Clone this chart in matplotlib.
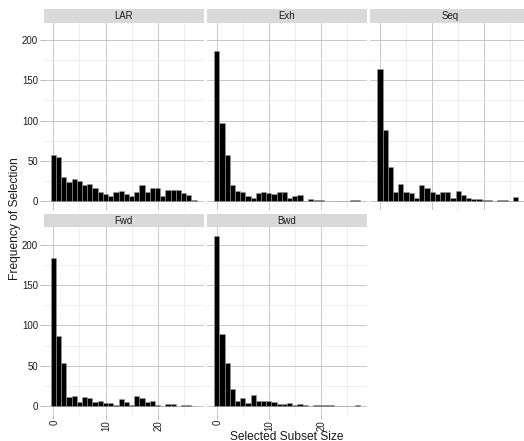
import numpy as np
import matplotlib
matplotlib.use('Agg')
import matplotlib.pyplot as plt

plt.rcParams['font.family'] = ['Liberation Sans', 'DejaVu Sans']

# ---- data ----
subset_sizes = list(range(28))
methods = ["LAR", "Exh", "Seq", "Fwd", "Bwd"]
lar = [57, 55, 30, 24, 27, 25, 20, 22, 17, 11, 9, 6, 12, 13, 9, 6, 11, 20, 12, 17, 17, 6, 14, 14, 14, 10, 8, 1]
exh = [186, 97, 57, 20, 13, 12, 6, 4, 10, 12, 10, 9, 11, 11, 4, 6, 8, 0, 3, 2, 1, 0, 0, 0, 0, 0, 2, 1]
seq = [164, 88, 43, 12, 21, 12, 10, 4, 20, 16, 12, 9, 11, 12, 4, 13, 8, 4, 3, 3, 1, 2, 0, 2, 2, 0, 5, 0]
fwd = [184, 87, 54, 12, 13, 5, 12, 10, 5, 6, 4, 4, 2, 9, 5, 1, 13, 10, 5, 7, 2, 0, 3, 3, 0, 1, 2, 0]
bwd = [211, 90, 53, 22, 7, 10, 4, 14, 7, 7, 7, 5, 3, 3, 4, 2, 3, 2, 0, 1, 1, 2, 1, 0, 0, 0, 0, 2]
counts = {"LAR": lar, "Exh": exh, "Seq": seq, "Fwd": fwd, "Bwd": bwd}
x_major = [0, 10, 20]
x_minor = [5, 15, 25]
y_major = [0, 50, 100, 150, 200]
y_minor = [25, 75, 125, 175]
x_title = "Selected Subset Size"
y_title = "Frequency of Selection"

# ---- layout ----
W, H, DPI = 524, 441, 72
fig = plt.figure(figsize=(W / DPI, H / DPI), dpi=DPI)
fig.patch.set_facecolor('white')


def rect(x0, y0, x1, y1):
    return [x0 / W, 1 - y1 / H, (x1 - x0) / W, (y1 - y0) / H]


col_x = [43.5, 206.8, 370.1]
pw = 160.5
rows = [(9.2, 22.5, 209.8), (214.0, 227.3, 414.8)]

lo, hi = -0.5, len(subset_sizes) - 0.5
xpad = 0.05 * (hi - lo)
xlim = (lo - xpad, hi + xpad)
ymax = max(max(v) for v in counts.values())
ylim = (-0.05 * ymax, 1.05 * ymax)

text_col = '#1a1a1a'
tick_col = '#a8a8a8'

for i, m in enumerate(methods):
    r, c = divmod(i, 3)
    x0 = col_x[c]
    ys, yp0, yp1 = rows[r]
    ax = fig.add_axes(rect(x0, yp0, x0 + pw, yp1))
    ax.set_facecolor('white')
    ax.set_xlim(*xlim)
    ax.set_ylim(*ylim)
    ax.set_xticks(x_major)
    ax.set_xticks(x_minor, minor=True)
    ax.set_yticks(y_major)
    ax.set_yticks(y_minor, minor=True)
    ax.set_axisbelow(True)
    ax.grid(which='major', color='#c2c2c2', linewidth=0.9)
    ax.grid(which='minor', color='#e8e8e8', linewidth=0.7)
    for s in ax.spines.values():
        s.set_visible(False)
    ax.bar(subset_sizes, counts[m], width=1.0, color='black',
           edgecolor='#a0a0a0', linewidth=0.5)
    ax.tick_params(which='minor', length=0)
    if r == 1:
        ax.tick_params(axis='x', which='major', length=3.5, width=0.8, color=tick_col,
                       pad=1.5, labelsize=9.6, labelcolor=text_col)
        for lab in ax.get_xticklabels():
            lab.set_rotation(90)
            lab.set_rotation_mode('anchor')
            lab.set_ha('right')
            lab.set_va('center_baseline')
    else:
        ax.tick_params(axis='x', which='major', length=0, labelbottom=False)
    if c == 0:
        ax.tick_params(axis='y', which='major', length=4, width=0.8, color=tick_col,
                       pad=1.5, labelsize=9.6, labelcolor=text_col)
    else:
        ax.tick_params(axis='y', which='major', length=0, labelleft=False)

    sax = fig.add_axes(rect(x0, ys, x0 + pw, yp0))
    sax.set_facecolor('#d9d9d9')
    sax.set_xticks([])
    sax.set_yticks([])
    for s in sax.spines.values():
        s.set_visible(False)
    sax.text(0.5, 0.5, m, transform=sax.transAxes, ha='center', va='center',
             fontsize=9.6, color=text_col)

# axis titles
xc = (col_x[0] + col_x[2] + pw) / 2
fig.text(xc / W, 1 - 439.5 / H, x_title, ha='center', va='baseline',
         fontsize=12, color=text_col)
yc = (rows[0][1] + rows[1][2]) / 2
fig.text(15.5 / W, 1 - yc / H, y_title, ha='center', va='center', rotation=90,
         fontsize=12, color=text_col)

fig.savefig('out.png', dpi=DPI, facecolor='white')
